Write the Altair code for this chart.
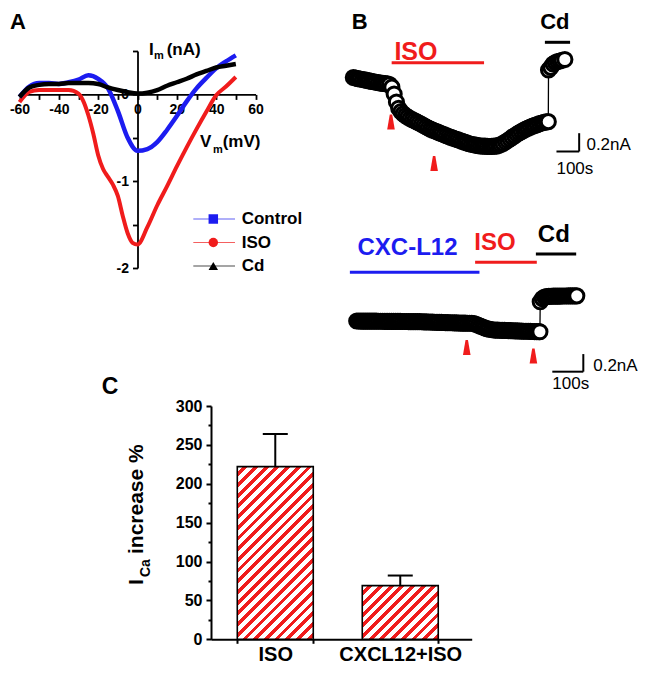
import altair as alt
import pandas as pd

FONT = "Liberation Sans"
BLUE = "#1c1cf0"
RED = "#f01c1c"
BLACK = "#000000"

# ---------------- data: panel A (I-V curves) ----------------
a_series = ["Control", "ISO", "Cd"]
a_colors = [BLUE, RED, BLACK]
a_v = [-60, -55, -50, -45, -40, -35, -30, -25, -20, -15, -10, -5, 0, 5, 10, 15, 20, 25, 30, 35, 40, 45, 50]
a_control = [-0.03, 0.09, 0.13, 0.13, 0.12, 0.14, 0.17, 0.22, 0.18, 0.07, -0.19, -0.50, -0.65, -0.63,
             -0.55, -0.41, -0.25, -0.08, 0.07, 0.19, 0.30, 0.38, 0.45]
a_cd = [-0.03, 0.08, 0.11, 0.12, 0.12, 0.13, 0.13, 0.13, 0.12, 0.08, 0.05, 0.025, 0.01, 0.02,
        0.05, 0.10, 0.14, 0.18, 0.23, 0.27, 0.31, 0.33, 0.35]
a_iso_v = [-60, -55, -50, -45, -40, -35, -30, -27.5, -25, -22.5, -20, -17.5, -15, -12.5, -10, -7.5,
           -5, -2.5, 0, 5, 10, 15, 20, 25, 30, 35, 40, 45, 50]
a_iso = [-0.09, 0.03, 0.05, 0.05, 0.05, 0.05, 0.01, -0.08, -0.24, -0.45, -0.70, -0.86, -0.95, -1.04,
         -1.17, -1.40, -1.60, -1.71, -1.73, -1.53, -1.28, -1.06, -0.83, -0.61, -0.40, -0.20, -0.01, 0.09, 0.20]
a_x_ticks = [-60, -50, -40, -30, -20, -10, 0, 10, 20, 30, 40, 50, 60]
a_y_ticks = [-2, -1.5, -1, -0.5, 0, 0.5]

# ---------------- data: panel B (current traces, time in s, current in nA) ----------------
b1_t = list(range(0, 851, 10)) + [859, 860, 870, 880, 890, 900, 910, 920, 932]
b1_i = [-0.191, -0.197, -0.203, -0.208, -0.213, -0.218, -0.223, -0.228, -0.233, -0.238,
        -0.243, -0.247, -0.252, -0.255, -0.258, -0.261, -0.268, -0.297, -0.372, -0.459,
        -0.528, -0.564, -0.589, -0.608, -0.624, -0.640, -0.652, -0.664, -0.677, -0.689,
        -0.702, -0.716, -0.730, -0.743, -0.756, -0.766, -0.776, -0.786, -0.796, -0.806,
        -0.816, -0.826, -0.836, -0.846, -0.854, -0.863, -0.871, -0.880, -0.889, -0.897,
        -0.906, -0.915, -0.921, -0.926, -0.931, -0.936, -0.940, -0.941, -0.942, -0.944,
        -0.945, -0.944, -0.942, -0.941, -0.933, -0.923, -0.912, -0.896, -0.880, -0.864,
        -0.846, -0.829, -0.811, -0.797, -0.783, -0.769, -0.756, -0.745, -0.734, -0.723,
        -0.715, -0.706, -0.696, -0.688, -0.682, -0.677, -0.674,
        -0.109, -0.080, -0.044, -0.027, -0.016, -0.011, -0.003, 0.005]
b1_arrow_t = [166, 356]
b1_arrow_i = [-0.678, -1.131]
b1_iso_on = [169, 576]
b1_cd_on = [844, 955]
b1_scalebar = [895, -1.0]

b2_t = list(range(0, 589, 7)) + [591] + [592, 599, 606, 613, 620, 627, 634, 641, 648, 655, 662,
                                          669, 676, 683, 690, 697, 704, 710]
b2_i = [-0.284, -0.284, -0.285, -0.285, -0.285, -0.285, -0.286, -0.286, -0.286, -0.286,
        -0.287, -0.287, -0.287, -0.288, -0.288, -0.288, -0.288, -0.289, -0.289, -0.289,
        -0.289, -0.290, -0.290, -0.290, -0.291, -0.291, -0.291, -0.291, -0.292, -0.292,
        -0.293, -0.294, -0.294, -0.295, -0.296, -0.297, -0.298, -0.299, -0.299, -0.300,
        -0.301, -0.302, -0.303, -0.304, -0.304, -0.305, -0.306, -0.307, -0.308, -0.309,
        -0.309, -0.310, -0.310, -0.310,
        -0.313, -0.323, -0.333, -0.342, -0.352, -0.362, -0.372, -0.376, -0.381, -0.386,
        -0.387, -0.388, -0.389, -0.390, -0.391, -0.392, -0.393, -0.394, -0.395, -0.396,
        -0.397, -0.398, -0.399, -0.400, -0.400, -0.401, -0.402, -0.403, -0.404, -0.405,
        -0.405, -0.406,
        -0.065, -0.030, -0.012, -0.006, -0.004, -0.003, -0.002, -0.002, -0.001, -0.001,
        0.0, 0.0, 0.0, 0.001, 0.001, 0.001, 0.002, 0.002]
b2_arrow_t = [355, 570]
b2_arrow_i = [-0.585, -0.682]
b2_cxcl_on = [-22, 396]
b2_iso_on = [382, 581]
b2_cd_on = [578, 708]
b2_scalebar = [631, -0.86]
scalebar_t = 100
scalebar_i = 0.2

# ---------------- data: panel C ----------------
c_cond = ["ISO", "CXCL12+ISO"]
c_mean = [222, 69]
c_sem = [42, 13]

# ---------------- layout (pixels inside the 630 x 658 drawing) ----------------
W, H = 630, 658
A_XR = [11.5, 247.5]
A_YR = [260.0, 43.0]
B1_XR = [345.3, 617.7]
B1_YR = [161.8, 33.7]
B2_XR = [348.7, 658.7]
B2_YR = [367.2, 270.4]
C_XR = [203.0, 463.7]
C_YR = [631.3, 398.0]
C_PI, C_PO, C_ALIGN = 0.392, 0.239, 0.44
LEG_YR = [211.0, 258.0]

a_x0 = A_XR[0] + 60 / 120 * (A_XR[1] - A_XR[0])
a_y0 = A_YR[0] + 2 / 2.5 * (A_YR[1] - A_YR[0])


def pos_scale(domain, rng):
    return alt.Scale(domain=domain, range=rng, nice=False, zero=False)


axis_common = dict(title=None, grid=False, labelFont=FONT, labelFontWeight="bold", labelColor="black",
                   domainColor="black", tickColor="black", labelOverlap=False, labelFlush=False)

MINUS = "\u2212"

# ---------------- panel A ----------------
a_df = pd.concat([
    pd.DataFrame({"V": a_v, "I": a_control, "series": "Control"}),
    pd.DataFrame({"V": a_iso_v, "I": a_iso, "series": "ISO"}),
    pd.DataFrame({"V": a_v, "I": a_cd, "series": "Cd"}),
], ignore_index=True)

a_x = alt.X("V:Q", scale=pos_scale([-60, 60], A_XR),
            axis=alt.Axis(orient="bottom", offset=-(H - a_y0), values=a_x_ticks,
                          labelExpr="datum.value % 20 === 0 ? replace(format(datum.value, 'd'), '" + MINUS + "', '-') : ''",
                          tickSize=5, labelPadding=3, labelFontSize=14, domainWidth=1.8, tickWidth=1.8,
                          **axis_common))
a_y = alt.Y("I:Q", scale=pos_scale([-2, 0.5], A_YR),
            axis=alt.Axis(orient="left", offset=-a_x0, values=a_y_ticks,
                          labelExpr="datum.value % 1 === 0 ? replace(format(datum.value, 'd'), '" + MINUS + "', '-') : ''",
                          tickSize=5, labelPadding=4, labelFontSize=14, domainWidth=1.8, tickWidth=1.8,
                          **axis_common))


def a_curve(name, color, width):
    return (alt.Chart(a_df).transform_filter(alt.datum.series == name)
            .mark_line(color=color, strokeWidth=width, interpolate="monotone")
            .encode(x=a_x, y=a_y))


panel_a = alt.layer(a_curve("ISO", RED, 4), a_curve("Control", BLUE, 4.5), a_curve("Cd", BLACK, 4.5))

leg_df = pd.DataFrame({"series": a_series})
leg_y = alt.Y("series:N", scale=alt.Scale(type="point", domain=a_series, range=LEG_YR, padding=0), axis=None)
leg_c = alt.Color("series:N", scale=alt.Scale(domain=a_series, range=a_colors), legend=None)
legend_a = alt.layer(
    alt.Chart(leg_df).mark_rule(strokeWidth=1.2, opacity=0.7).encode(
        x=alt.value(185.3), x2=alt.value(227), y=leg_y, color=leg_c),
    alt.Chart(leg_df).mark_point(filled=True, size=90, opacity=1).encode(
        x=alt.value(205.3), y=leg_y, color=leg_c,
        shape=alt.Shape("series:N", scale=alt.Scale(domain=a_series, range=["square", "circle", "triangle-up"]),
                        legend=None)),
    alt.Chart(leg_df).mark_text(align="left", baseline="middle", font=FONT, fontWeight="bold",
                                fontSize=17, color="black").encode(x=alt.value(233.7), y=leg_y, text="series:N"),
)

# ---------------- panel B ----------------
ARROW = "M-0.16,-1L0.16,-1L0.5,1L-0.5,1Z"


def trace_panel(t, i, xdom, xr, yr, ydom, arrows_t, arrows_i, sb, drugs, drug_labels, sb_text_y):
    df = pd.DataFrame({"t": t, "I": i})
    bx = alt.X("t:Q", scale=pos_scale(xdom, xr), axis=None)
    by = alt.Y("I:Q", scale=pos_scale(ydom, yr), axis=None)
    layers = [
        alt.Chart(df).mark_line(color="black", strokeWidth=1.3).encode(x=bx, y=by),
        alt.Chart(df).mark_point(shape="circle", size=200, filled=True, fill="white", stroke="black",
                                 strokeWidth=3, opacity=1).encode(x=bx, y=by),
        alt.Chart(pd.DataFrame({"t": arrows_t, "I": arrows_i})).mark_point(
            shape=ARROW, size=230, filled=True, color=RED, opacity=1).encode(x=bx, y=by),
    ]
    t0, i0 = sb
    sb_df = pd.DataFrame({"t": [t0, t0 + scalebar_t], "t2": [t0 + scalebar_t, t0 + scalebar_t],
                          "I": [i0, i0], "I2": [i0, i0 + scalebar_i]})
    layers.append(alt.Chart(sb_df).mark_rule(color="black", strokeWidth=2).encode(
        x=bx, x2=alt.X2("t2"), y=by, y2=alt.Y2("I2")))
    layers.append(alt.Chart(pd.DataFrame({"t": [t0 + scalebar_t + 32], "I": [i0 + scalebar_i * 0.35],
                                          "label": ["0.2nA"]}))
                  .mark_text(align="left", baseline="middle", font=FONT, fontSize=17, color="black")
                  .encode(x=bx, y=by, text="label:N"))
    layers.append(alt.Chart(pd.DataFrame({"t": [t0], "label": ["100s"]}))
                  .mark_text(align="left", baseline="alphabetic", font=FONT, fontSize=17, color="black")
                  .encode(x=bx, y=alt.value(sb_text_y), text="label:N"))
    for (on, color, ypix) in drugs:
        layers.append(alt.Chart(pd.DataFrame({"t": [on[0]], "t2": [on[1]]}))
                      .mark_rule(color=color, strokeWidth=3).encode(x=bx, x2=alt.X2("t2"), y=alt.value(ypix)))
    for (tc, text, color, ypix, size) in drug_labels:
        layers.append(alt.Chart(pd.DataFrame({"t": [tc], "label": [text]}))
                      .mark_text(align="center", baseline="alphabetic", font=FONT, fontWeight="bold",
                                 fontSize=size, color=color)
                      .encode(x=bx, y=alt.value(ypix), text="label:N"))
    return alt.layer(*layers)


panel_b1 = trace_panel(
    b1_t, b1_i, [0, 1200], B1_XR, B1_YR, [-1.2, 0.2], b1_arrow_t, b1_arrow_i, b1_scalebar,
    [(b1_iso_on, RED, 54.7), (b1_cd_on, BLACK, 34.3)],
    [(276, "ISO", RED, 52, 25), (888, "Cd", BLACK, 20.5, 22)], 166)

panel_b2 = trace_panel(
    b2_t, b2_i, [0, 1000], B2_XR, B2_YR, [-0.9, 0.2], b2_arrow_t, b2_arrow_i, b2_scalebar,
    [(b2_cxcl_on, BLUE, 264.3), (b2_iso_on, RED, 254.3), (b2_cd_on, BLACK, 246)],
    [(164, "CXC-L12", BLUE, 247, 24), (446, "ISO", RED, 242, 24), (636, "Cd", BLACK, 234, 24)], 381)

# ---------------- panel C ----------------
c_df = pd.DataFrame({"cond": c_cond, "mean": c_mean, "sem": c_sem})
c_step = (C_XR[1] - C_XR[0]) / (len(c_cond) - C_PI + 2 * C_PO)
c_bw = c_step * (1 - C_PI)
c_px_per_unit = (C_YR[0] - C_YR[1]) / 300


def hatch(w, h, period=10.7, red_frac=0.45):
    r = h / w
    k = (1 + r) / (1 + r * r)
    total = w + h
    step = period / total
    stops = []
    i = 0
    while i * step < 1:
        a = round(i * step, 5)
        b = round(min(1.0, (i + 1 - red_frac) * step), 5)
        c = round(min(1.0, (i + 1) * step), 5)
        stops += [{"offset": a, "color": "#ffffff"}, {"offset": b, "color": "#ffffff"}]
        if b < 1:
            stops += [{"offset": b, "color": RED}, {"offset": c, "color": RED}]
        i += 1
    return {"gradient": "linear", "x1": 0, "y1": 0, "x2": round(k, 5), "y2": round(k * r, 5), "stops": stops}


c_x = alt.X("cond:N", sort=c_cond,
            scale=alt.Scale(type="band", domain=c_cond, range=C_XR, paddingInner=C_PI, paddingOuter=C_PO,
                            align=C_ALIGN),
            axis=alt.Axis(orient="bottom", offset=-(H - C_YR[0]), tickBand="extent", labelAngle=0,
                          tickSize=4, labelPadding=1, labelFontSize=20, domainWidth=2, tickWidth=2,
                          **axis_common))
c_axis_y = alt.Axis(orient="left", offset=-C_XR[0], values=list(range(0, 301, 25)),
                    labelExpr="datum.value % 50 === 0 ? datum.label : ''",
                    tickSize={"condition": {"test": "datum.value % 50 === 0", "value": 5}, "value": 3},
                    labelPadding=4, labelFontSize=16, domainWidth=2, tickWidth=2, **axis_common)
c_scale_y = pos_scale([0, 300], C_YR)


def c_bar(i):
    h = c_mean[i] * c_px_per_unit
    return (alt.Chart(c_df).transform_filter(alt.datum.cond == c_cond[i])
            .mark_bar(fill=hatch(c_bw, h), stroke="black", strokeWidth=1.6)
            .encode(x=c_x, y=alt.Y("mean:Q", scale=c_scale_y, axis=c_axis_y)))


c_err = alt.Chart(c_df).transform_calculate(top="datum.mean + datum.sem")
panel_c = alt.layer(
    c_bar(0), c_bar(1),
    c_err.mark_rule(color="black", strokeWidth=2).encode(
        x=c_x, y=alt.Y("mean:Q", scale=c_scale_y, axis=c_axis_y), y2=alt.Y2("top:Q")),
    c_err.mark_tick(color="black", thickness=2, size=25, opacity=1).encode(
        x=c_x, y=alt.Y("top:Q", scale=c_scale_y, axis=c_axis_y)),
)


# ---------------- free text (panel letters, axis titles) ----------------
def label(text, x, y, size, weight="bold", align="left", angle=0):
    return alt.Chart(pd.DataFrame({"label": [text]})).mark_text(
        align=align, baseline="alphabetic", font=FONT, fontWeight=weight, fontSize=size, color="black",
        angle=angle).encode(x=alt.value(x), y=alt.value(y), text="label:N")


texts = [
    label("A", 2, 20.5, 22), label("B", 343.7, 20.5, 22), label("C", 93.7, 385.5, 23),
    label("I", 141, 47, 17), label("m", 146, 50.5, 11), label("(nA)", 158.7, 47, 17),
    label("V", 192, 138.7, 17), label("m", 205, 145, 11), label("(mV)", 214.7, 138.7, 17),
    label("I", 135, 577, 21, angle=270), label("Ca", 142, 569, 14, angle=270),
    label("increase %", 135, 546, 21, angle=270),
]

chart = alt.layer(panel_a, legend_a, panel_b1, panel_b2, panel_c, *texts).resolve_scale(
    x="independent", y="independent", color="independent", shape="independent"
).properties(
    width=W, height=H, padding=0, autosize=alt.AutoSizeParams(type="none"), background="white"
).configure_view(stroke=None)

chart.save("out.html", embed_options={"renderer": "svg", "actions": False})
